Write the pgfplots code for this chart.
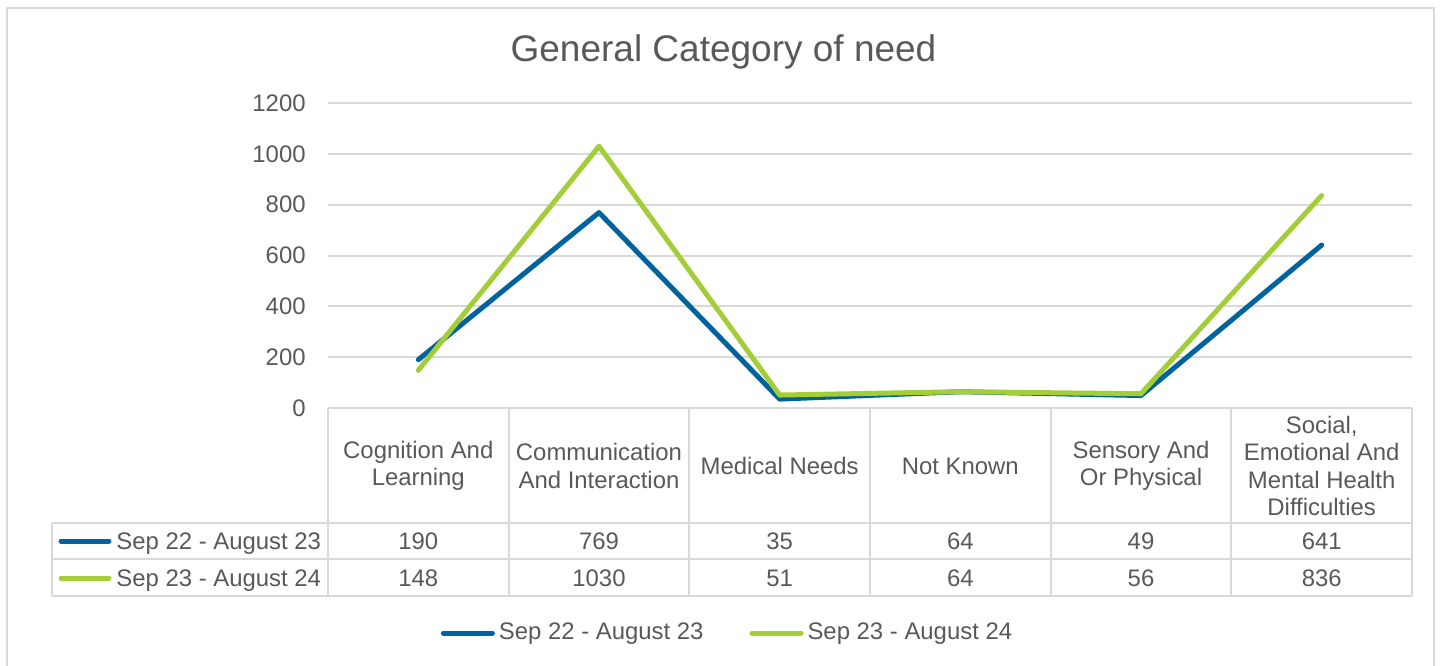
\documentclass[border=0pt]{standalone}
\usepackage{pgfplots}
\pgfplotsset{compat=1.18}
\usepackage{fontspec}
\setmainfont{Liberation Sans}
\definecolor{sblue}{RGB}{0,99,158}
\definecolor{sgreen}{RGB}{164,206,57}
\definecolor{txt}{RGB}{89,89,89}
\definecolor{gridc}{RGB}{217,217,217}
\newcommand{\sm}{\fontsize{11.95}{13.6}\selectfont}
\begin{document}
\begin{tikzpicture}[x=0.5pt,y=0.5pt]
\fill[white] (0,0) rectangle (1442,665);
\draw[gridc, line width=1pt] (7,657) rectangle (1434,-25);
\node[txt, anchor=base, font=\fontsize{18.5}{22}\selectfont, inner sep=0pt] at (723.5,603) {General Category of need};
\begin{axis}[at={(164pt,128.5pt)}, anchor=south west, scale only axis,
  width=542pt, height=152.5pt,
  xmin=-0.5, xmax=5.5, ymin=0, ymax=1200,
  ytick={0,200,...,1200}, xtick=\empty,
  axis line style={draw=none}, tick style={draw=none},
  ymajorgrids, grid style={gridc, line width=1pt},
  y tick label style={txt, font=\sm, anchor=east, inner sep=0pt, xshift=-11pt},
  /pgf/number format/assume math mode=true,
  /pgf/number format/1000 sep={},
  clip=false,
  legend columns=2,
  legend style={at={(0.3695,-0.738)}, anchor=center, draw=none, fill=none,
    font=\sm, text=txt, inner sep=0pt,
    /tikz/every even column/.append style={column sep=21pt}},
  legend cell align=left,
  legend image code/.code={\draw[#1, line width=2.5pt, line cap=round] (0pt,0pt) -- (24.5pt,0pt);},
  ]
\addplot[sblue, line width=2.5pt, line cap=round, line join=round] coordinates {(0,190) (1,769) (2,35) (3,64) (4,49) (5,641)};
\addlegendentry{Sep 22 - August 23}
\addplot[sgreen, line width=2.5pt, line cap=round, line join=round] coordinates {(0,148) (1,1030) (2,51) (3,64) (4,56) (5,836)};
\addlegendentry{Sep 23 - August 24}
\end{axis}
% data table grid
\begin{scope}[gridc, line width=1pt]
\foreach \x in {328,508.7,689.3,870,1050.7,1231.3,1412} \draw (\x,257) -- (\x,69);
\draw (52,142) -- (1412,142);
\draw (52,106) -- (1412,106);
\draw (52,69) -- (1412,69);
\draw (52,142) -- (52,69);
\end{scope}
\foreach \x/\t in {418.3/{Cognition And\\Learning}, 599/{Communication\\And Interaction}, 779.7/{Medical Needs}, 960.3/{Not Known}, 1141/{Sensory And\\Or Physical}, 1321.7/{Social,\\Emotional And\\Mental Health\\Difficulties}}
  \node[txt, font=\sm, align=center, inner sep=0pt] at (\x,199) {\t};
\foreach \x/\a/\b in {418.3/190/148, 599/769/1030, 779.7/35/51, 960.3/64/64, 1141/49/56, 1321.7/641/836} {
  \node[txt, font=\sm, anchor=base, inner sep=0pt] at (\x,116) {\a};
  \node[txt, font=\sm, anchor=base, inner sep=0pt] at (\x,79) {\b};
}
\draw[sblue, line width=2.5pt, line cap=round] (61,124) -- (109,124);
\draw[sgreen, line width=2.5pt, line cap=round] (61,87) -- (109,87);
\node[txt, font=\sm, anchor=base west, inner sep=0pt] at (116,116) {Sep 22 - August 23};
\node[txt, font=\sm, anchor=base west, inner sep=0pt] at (116,79) {Sep 23 - August 24};
\pgfresetboundingbox
\path[use as bounding box] (0,0) rectangle (1442,665);
\end{tikzpicture}
\end{document}
